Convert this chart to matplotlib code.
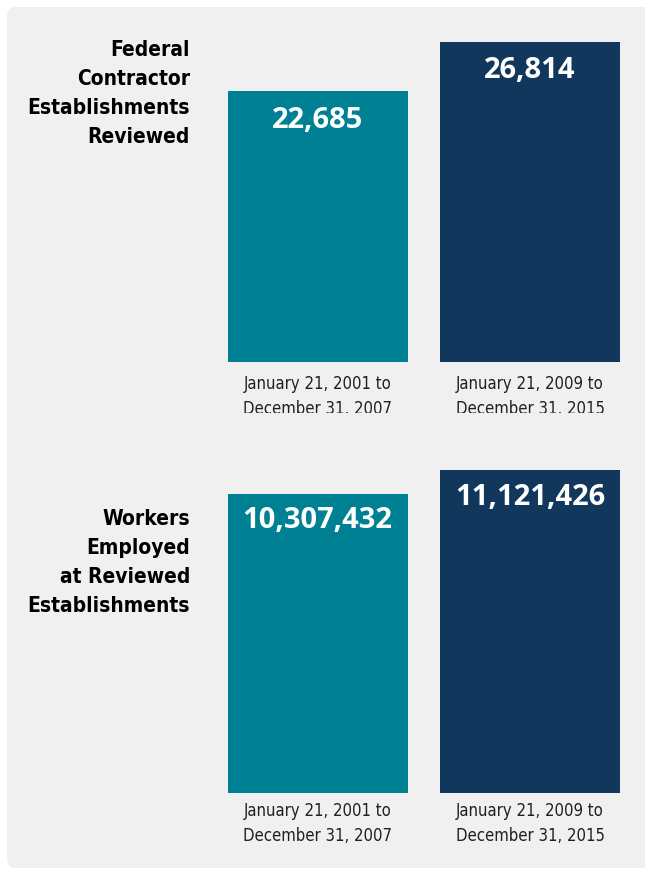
import matplotlib
matplotlib.use("Agg")
import matplotlib.pyplot as plt
from matplotlib.patches import FancyBboxPatch

# data
periods = ["January 21, 2001 to\nDecember 31, 2007", "January 21, 2009 to\nDecember 31, 2015"]
establishments = [22685, 26814]
workers = [10307432, 11121426]
row_titles = ["Federal\nContractor\nEstablishments\nReviewed",
              "Workers\nEmployed\nat Reviewed\nEstablishments"]
bar_colors = ["#008193", "#12375c"]

W, H = 645, 869
fig = plt.figure(figsize=(W / 100, H / 100), dpi=100)
fig.patch.set_facecolor("white")

# grey rounded panel behind everything
panel = FancyBboxPatch((7 / W, 1 - 868 / H), (W + 20 - 7) / W, (868 - 7) / H,
                       boxstyle="round,pad=0,rounding_size=0.012",
                       transform=fig.transFigure, facecolor="#f0f0f0",
                       edgecolor="none", zorder=-10)
fig.patches.append(panel)


def px_axes(x0, y_top, x1, y_bot):
    return fig.add_axes([x0 / W, 1 - y_bot / H, (x1 - x0) / W, (y_bot - y_top) / H])


def draw_panel(values, title, y_base, y_maxtop, y_clip, title_top, label_offset, date_gap):
    # bars centred at 317.5 and 530 px
    ax = px_axes(100, 10, 645, y_clip)
    ax.set_facecolor("none")
    spacing = 212.5
    ax.set_xlim((100 - 317.5) / spacing, (645 - 317.5) / spacing)
    scale = max(values) / (y_base - y_maxtop)  # data units per pixel
    ax.set_ylim(-(y_clip - y_base) * scale, (y_base - 10) * scale)
    xs = [0, 1]
    ax.bar(xs, values, width=180 / spacing, color=bar_colors, zorder=2)
    for x, v in zip(xs, values):
        ax.text(x, v - label_offset * scale, f"{v:,}", ha="center", va="center",
                color="white", fontsize=21, fontweight="bold", family="Open Sans", zorder=3)
    for x, p in zip(xs, periods):
        ax.text(x, -date_gap * scale, p, ha="center", va="top", color="#231f20",
                fontsize=12, family="DejaVu Sans", fontstretch="condensed",
                linespacing=1.5, clip_on=True)
    ax.axis("off")
    fig.text(190 / W, 1 - title_top / H, title, ha="right", va="top",
             fontsize=15, fontweight="bold", family="DejaVu Sans",
             fontstretch="condensed", color="black", linespacing=1.57)


draw_panel(establishments, row_titles[0], 362, 42, 413, 40, 29, 13)
draw_panel(workers, row_titles[1], 793, 470, 860, 509, 27, 9)

fig.savefig("out.png", dpi=100, facecolor="white")
